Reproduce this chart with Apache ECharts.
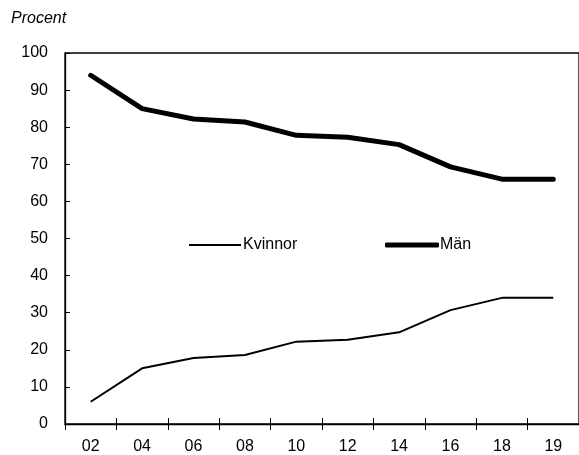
<!DOCTYPE html>
<html><head><meta charset="utf-8">
<script src="https://cdn.jsdelivr.net/npm/echarts@6/dist/echarts.min.js"></script>
<style>html,body{margin:0;padding:0;background:#fff}#c{width:579px;height:455px}</style>
</head><body><div id="c"></div>
<script>
var categories = ['02','04','06','08','10','12','14','16','18','19'];
var kvinnor = [6, 15, 17.8, 18.6, 22.2, 22.7, 24.7, 30.7, 34, 34];
var man = [94, 85, 82.2, 81.4, 77.8, 77.3, 75.3, 69.3, 66, 66];
var yTicks = [0, 10, 20, 30, 40, 50, 60, 70, 80, 90, 100];

var FONT = '"Liberation Sans Narrow",sans-serif';
var chart = echarts.init(document.getElementById('c'), null, {renderer:'canvas'});
chart.setOption({
  animation: false,
  backgroundColor: '#fff',
  title: {text: 'Procent', left: 6, top: 6,
    textStyle: {fontFamily: '"Liberation Sans",Arial,sans-serif', fontStyle: 'italic', fontWeight: 'normal', fontSize: 16, color: '#000'}},
  grid: {left: 65, right: -5, top: 53, bottom: 31, show: true, borderColor: '#000', borderWidth: 1.3, containLabel: false},
  legend: [
    {data: [{name: 'Kvinnor', icon: 'rect'}], left: 184, top: 232, itemWidth: 52, itemHeight: 2, itemGap: 0,
      textStyle: {fontFamily: FONT, fontSize: 16, color: '#000', padding: [0,0,0,-3]}},
    {data: [{name: 'Män', icon: 'roundRect'}], left: 380, top: 232, itemWidth: 54, itemHeight: 5, itemGap: 0,
      textStyle: {fontFamily: FONT, fontSize: 16, color: '#000', padding: [0,0,0,-4]}}
  ],
  xAxis: [
    {type: 'category', data: categories, boundaryGap: true, position: 'bottom',
      axisLine: {lineStyle: {color: '#000', width: 1.3}},
      axisTick: {show: true, inside: false, length: 6, lineStyle: {color: '#000', width: 1}},
      axisLabel: {fontFamily: FONT, fontSize: 16, color: '#000', margin: 15}},
    {type: 'category', data: categories, boundaryGap: true, position: 'bottom',
      axisLine: {show: false},
      axisTick: {show: true, inside: true, length: 6, lineStyle: {color: '#000', width: 1}},
      axisLabel: {show: false}}
  ],
  yAxis: {type: 'value', min: 0, max: 100, interval: 10,
    axisLine: {show: true, lineStyle: {color: '#000', width: 1.3}},
    axisTick: {show: true, inside: true, length: 5, lineStyle: {color: '#000'}},
    splitLine: {show: false},
    axisLabel: {fontFamily: FONT, fontSize: 16, color: '#000', margin: 17,
      formatter: function(v){ return yTicks.indexOf(v) >= 0 ? String(v) : ''; }}},
  series: [
    {name: 'Kvinnor', type: 'line', data: kvinnor, xAxisIndex: 0, symbol: 'none',
      lineStyle: {color: '#000', width: 2}, itemStyle: {color: '#000'}},
    {name: 'Män', type: 'line', data: man, xAxisIndex: 0, symbol: 'none',
      lineStyle: {color: '#000', width: 5, cap: 'round'}, itemStyle: {color: '#000'}}
  ]
});
</script></body></html>
